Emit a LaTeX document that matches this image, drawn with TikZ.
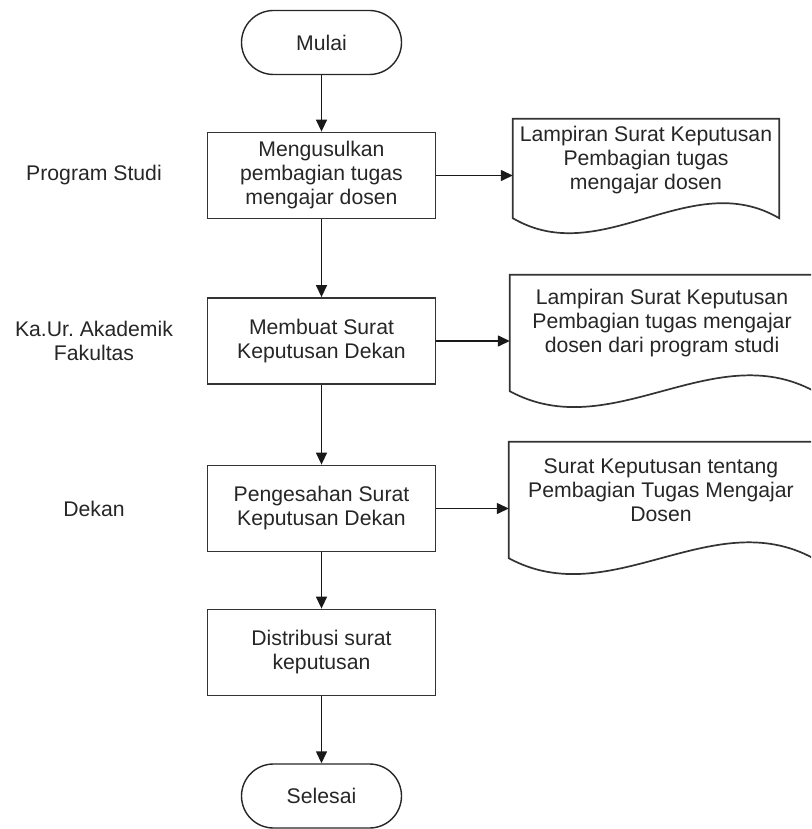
\documentclass[tikz,border=0pt]{standalone}
\usepackage{fontspec}
\setmainfont{Liberation Sans}
\usetikzlibrary{arrows.meta,calc}
\frenchspacing
\begin{document}
\begin{tikzpicture}[x=1pt,y=-1pt,
  every node/.style={font=\fontsize{21.2}{24}\selectfont, text=black!85, align=center},
  terminal/.style={draw=black!85, line width=1.4pt, rounded corners=32pt,
    minimum width=160pt, minimum height=64pt, inner sep=0pt},
  process/.style={draw=black!80, line width=1.8pt, minimum width=228pt,
    minimum height=86pt, inner sep=0pt},
  docframe/.style={draw=none, inner sep=0pt, minimum width=#1, minimum height=116pt},
  docline/.style={draw=black!80, line width=1.7pt, line join=miter},
  flow/.style={draw=black!90, line width=1.4pt, -{Triangle[length=12pt,width=11pt]}},
  lane/.style={}
]
\useasboundingbox (0,0) rectangle (811,829);
\clip (0,0) rectangle (811,829);

% main column
\node[terminal] (start) at (321.5,42.5) {Mulai};
\node[process] (b1) at (321.5,175.5) {Mengusulkan\\pembagian tugas\\mengajar dosen};
\node[process] (b2) at (321.5,341) {Membuat Surat\\Keputusan Dekan};
\node[process] (b3) at (321.5,508.5) {Pengesahan Surat\\Keputusan Dekan};
\node[process] (b4) at (321.5,652.5) {Distribusi surat\\keputusan};
\node[terminal] (stop) at (321.5,796) {Selesai};

% role labels
\node[lane] (l1) at (94,175.5) {Program Studi};
\node[lane] (l2) at (94,341) {Ka.Ur. Akademik\\Fakultas};
\node[lane] (l3) at (94,508.5) {Dekan};

% documents: frame spans the top edge down to the wave's centre line
\node[docframe=266pt, minimum height=99pt] (d1) at (646,168.5) {};
\node[docframe=304pt] (d2) at (662,333) {};
\node[docframe=304pt] (d3) at (661,500) {};

\draw[docline] (d1.south west) -- (d1.north west) -- (d1.north east) -- (d1.south east)
  .. controls ($(d1.south east)+(-88.7,-52)$) and ($(d1.south west)+(88.7,52)$) .. (d1.south west) -- cycle;
\draw[docline] (d2.south west) -- (d2.north west) -- (d2.north east) -- (d2.south east)
  .. controls ($(d2.south east)+(-101.3,-55)$) and ($(d2.south west)+(101.3,55)$) .. (d2.south west) -- cycle;
\draw[docline] (d3.south west) -- (d3.north west) -- (d3.north east) -- (d3.south east)
  .. controls ($(d3.south east)+(-101.3,-55)$) and ($(d3.south west)+(101.3,55)$) .. (d3.south west) -- cycle;

\node (t1) at ([yshift=8.5pt]d1.center) {Lampiran Surat Keputusan\\Pembagian tugas\\mengajar dosen};
\node (t2) at ([yshift=10pt]d2.center) {Lampiran Surat Keputusan\\Pembagian tugas mengajar\\dosen dari program studi};
\node (t3) at ([yshift=10pt]d3.center) {Surat Keputusan tentang\\Pembagian Tugas Mengajar\\Dosen};

% connectors
\draw[flow] (start) -- (b1);
\draw[flow] (b1) -- (b2);
\draw[flow] (b2) -- (b3);
\draw[flow] (b3) -- (b4);
\draw[flow] (b4) -- (stop);
\draw[flow] (b1.east) -- (b1.east -| d1.west);
\draw[flow] (b2.east) -- (b2.east -| d2.west);
\draw[flow] (b3.east) -- (b3.east -| d3.west);
\end{tikzpicture}
\end{document}
